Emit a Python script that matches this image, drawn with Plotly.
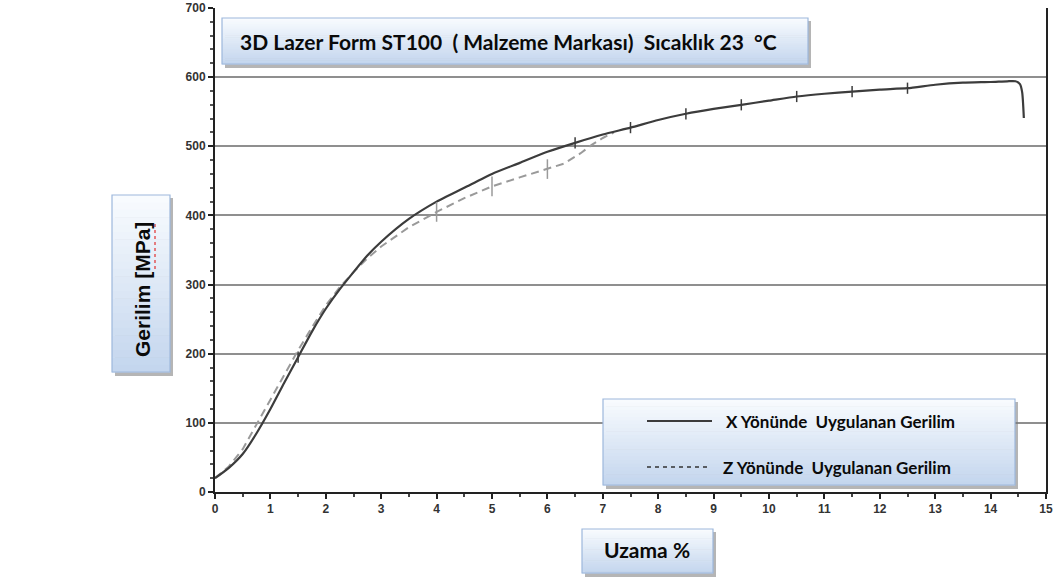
import plotly.graph_objects as go

# ---------------- data ----------------
x_strain = [0, 0.25, 0.5, 0.75, 1.0, 1.25, 1.5, 1.75, 2.0, 2.25, 2.5, 2.75, 3.0, 3.5, 4.0, 4.5,
            5.0, 5.5, 6.0, 6.5, 7.0, 7.5, 8.0, 8.5, 9.0, 9.5, 10.0, 10.5, 11.0, 11.5, 12.0,
            12.5, 13.0, 13.5, 14.0, 14.3, 14.45, 14.53, 14.57, 14.6]
x_stress = [20, 35, 55, 85, 120, 158, 195, 232, 265, 293, 318, 342, 362, 395, 420, 440,
            460, 476, 492, 505, 517, 527, 538, 547, 554, 560, 566, 572, 576, 579, 582,
            584, 589, 592, 593, 594, 594, 590, 578, 541]

z_strain = [0, 0.25, 0.5, 0.75, 1.0, 1.25, 1.5, 1.75, 2.0, 2.25, 2.5, 2.75, 3.0, 3.5, 4.0,
            4.5, 5.0, 5.5, 6.0, 6.3, 6.6, 6.8, 7.0, 7.2]
z_stress = [20, 37, 62, 98, 135, 170, 205, 238, 270, 296, 318, 338, 355, 383, 405,
            425, 442, 455, 467, 475, 490, 502, 512, 520]

x_mark_strain = [1.5, 6.5, 7.5, 8.5, 9.5, 10.5, 11.5, 12.5]
x_mark_stress = [195, 505, 527, 547, 560, 572, 579, 584]
z_mark_strain = [4.0, 5.0, 6.0]
z_mark_stress = [405, 442, 467]

x_ticks = list(range(0, 16))
y_ticks = list(range(0, 701, 100))

title_text = "3D Lazer Form ST100  ( Malzeme Markası)  Sıcaklık 23  °C"
ylabel_text = "Gerilim [MPa]"
xlabel_text = "Uzama %"
legend_x_text = "X Yönünde  Uygulanan Gerilim"
legend_z_text = "Z Yönünde  Uygulanan Gerilim"

# ---------------- geometry helpers ----------------
W, H = 1059, 580
PL, PR, PT, PB = 215, 1046, 8, 492


def px(v):
    return (v - PL) / (PR - PL)


def py(v):
    return (PB - v) / (PB - PT)


fig = go.Figure()

fig.add_trace(go.Scatter(x=z_strain, y=z_stress, mode="lines",
                         line=dict(color="#9a9a9a", width=2, dash="8px,5px"),
                         showlegend=False, hoverinfo="skip"))
fig.add_trace(go.Scatter(x=x_strain, y=x_stress, mode="lines",
                         line=dict(color="#3c3c3c", width=2.2, shape="spline", smoothing=0.6),
                         showlegend=False, hoverinfo="skip"))
fig.add_trace(go.Scatter(x=z_mark_strain, y=z_mark_stress, mode="markers",
                         marker=dict(symbol="line-ns", size=14, line=dict(color="#9a9a9a", width=1.5)),
                         showlegend=False, hoverinfo="skip"))
fig.add_trace(go.Scatter(x=x_mark_strain, y=x_mark_stress, mode="markers",
                         marker=dict(symbol="line-ns", size=8, line=dict(color="#3c3c3c", width=1.5)),
                         showlegend=False, hoverinfo="skip"))

shapes = []
annotations = []


def lerp(c1, c2, t):
    return "rgb(%d,%d,%d)" % tuple(round(a + (b - a) * t) for a, b in zip(c1, c2))


def box(x0, y0, x1, y1, n=24):
    # shadow
    shapes.append(dict(type="rect", xref="paper", yref="paper",
                       x0=px(x0 + 3), x1=px(x1 + 3), y0=py(y0 + 3), y1=py(y1 + 4),
                       fillcolor="rgba(120,120,120,0.55)", line=dict(width=0), layer="above"))
    top = (248, 251, 254)
    bot = (196, 214, 238)
    for i in range(n):
        ya = y0 + (y1 - y0) * i / n
        yb = y0 + (y1 - y0) * (i + 1) / n
        shapes.append(dict(type="rect", xref="paper", yref="paper",
                           x0=px(x0), x1=px(x1), y0=py(ya), y1=py(yb + 0.6),
                           fillcolor=lerp(top, bot, i / (n - 1)), line=dict(width=0), layer="above"))
    shapes.append(dict(type="rect", xref="paper", yref="paper",
                       x0=px(x0), x1=px(x1), y0=py(y0), y1=py(y1),
                       fillcolor="rgba(0,0,0,0)", line=dict(color="#9db8dc", width=1.2), layer="above"))


# title box
box(222, 18, 808, 64)
annotations.append(dict(xref="paper", yref="paper", x=px(238), y=py(41), xanchor="left", yanchor="middle",
                        text=title_text, showarrow=False,
                        font=dict(family="Lato", size=21, color="#0a0a0a", weight="bold")))
# y label box
box(112, 195, 170, 372)
annotations.append(dict(xref="paper", yref="paper", x=px(142), y=py(290), xanchor="center", yanchor="middle",
                        text=ylabel_text, showarrow=False, textangle=-90,
                        font=dict(family="Liberation Sans", size=21, color="#0a0a0a", weight="bold")))
shapes.append(dict(type="line", xref="paper", yref="paper", x0=px(155), x1=px(155), y0=py(224), y1=py(272),
                   line=dict(color="#e03030", width=1.2, dash="dot"), layer="above"))
# x label box
box(582, 529, 713, 573)
annotations.append(dict(xref="paper", yref="paper", x=px(647), y=py(549), xanchor="center", yanchor="middle",
                        text=xlabel_text, showarrow=False,
                        font=dict(family="Lato", size=21, color="#0a0a0a", weight="bold")))
# legend box
box(603, 399, 1015, 485)
shapes.append(dict(type="line", xref="paper", yref="paper", x0=px(647), x1=px(712), y0=py(421), y1=py(421),
                   line=dict(color="#3c3c3c", width=2), layer="above"))
shapes.append(dict(type="line", xref="paper", yref="paper", x0=px(647), x1=px(710), y0=py(467), y1=py(467),
                   line=dict(color="#333333", width=1.5, dash="4px,4px"), layer="above"))
annotations.append(dict(xref="paper", yref="paper", x=px(724), y=py(421), xanchor="left", yanchor="middle",
                        text=legend_x_text, showarrow=False,
                        font=dict(family="Lato", size=17, color="#0a0a0a", weight="bold")))
annotations.append(dict(xref="paper", yref="paper", x=px(721), y=py(467), xanchor="left", yanchor="middle",
                        text=legend_z_text, showarrow=False,
                        font=dict(family="Lato", size=17, color="#0a0a0a", weight="bold")))

fig.update_layout(
    width=W, height=H,
    margin=dict(l=PL, r=W - PR, t=PT, b=H - PB, autoexpand=False),
    paper_bgcolor="white", plot_bgcolor="white",
    shapes=shapes, annotations=annotations,
    showlegend=False,
    xaxis=dict(range=[0, 15], tickvals=x_ticks, ticktext=[str(v) for v in x_ticks],
               automargin=False,
               showgrid=False, zeroline=False, showline=True, linecolor="#222", linewidth=2,
               ticks="outside", ticklen=5, tickwidth=1.5, tickcolor="#222",
               minor=dict(dtick=0.5, ticks="outside", ticklen=3, tickcolor="#444", showgrid=False),
               tickfont=dict(family="Liberation Sans", size=12, color="#333", weight="bold"),
               fixedrange=True),
    yaxis=dict(range=[0, 700], tickvals=y_ticks, ticktext=[str(v) for v in y_ticks],
               automargin=False,
               showgrid=True, gridcolor="#8f8f8f", gridwidth=2,
               zeroline=False, showline=True, linecolor="#222", linewidth=2, mirror=True,
               ticks="outside", ticklen=5, tickwidth=1.5, tickcolor="#222",
               minor=dict(dtick=20, ticks="outside", ticklen=3, tickcolor="#555", showgrid=False),
               tickfont=dict(family="Liberation Sans", size=12, color="#333", weight="bold"),
               fixedrange=True),
)

fig.write_html("out.html", config={"displayModeBar": False},
               post_script="document.body.style.margin='0';document.body.style.overflow='hidden';")
